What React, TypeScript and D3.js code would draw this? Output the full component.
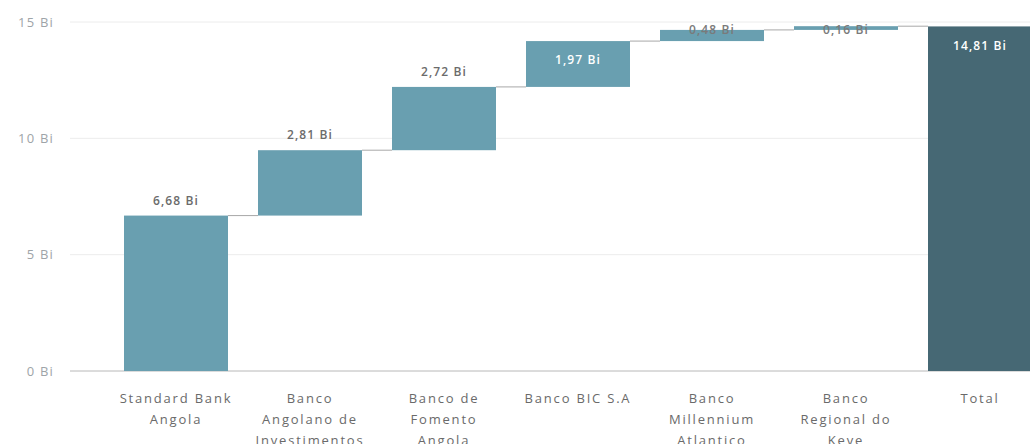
import React from "react";
import * as d3 from "d3";

const categories = [
  "Standard Bank Angola",
  "Banco Angolano de Investimentos",
  "Banco de Fomento Angola",
  "Banco BIC S.A",
  "Banco Millennium Atlantico",
  "Banco Regional do Keve",
  "Total",
];
const increments = [6.68, 2.81, 2.72, 1.97, 0.48, 0.16];
const totalValue = 14.81;
const yTicks = [0, 5, 10, 15];

const W = 1030;
const H = 444;
const FONT = "'Open Sans', 'Noto Sans', sans-serif";

function wrap(text: string, maxChars: number): string[] {
  const words = text.split(" ");
  const lines: string[] = [];
  let cur = "";
  for (const w of words) {
    const t = cur ? cur + " " + w : w;
    if (t.length <= maxChars || !cur) cur = t;
    else {
      lines.push(cur);
      cur = w;
    }
  }
  if (cur) lines.push(cur);
  return lines;
}

const fmt = (v: number) => d3.format(".2f")(v).replace(".", ",") + " Bi";

export default function App() {
  const y = d3.scaleLinear().domain([0, 15]).range([371, 22]);
  const x = d3
    .scaleBand<string>()
    .domain(categories)
    .range([109, 1047])
    .paddingInner(0.224)
    .paddingOuter(0.112);
  const bw = x.bandwidth();

  type Bar = { cat: string; start: number; end: number; value: number; total: boolean };
  const bars: Bar[] = [];
  let acc = 0;
  increments.forEach((v, i) => {
    bars.push({ cat: categories[i], start: acc, end: acc + v, value: v, total: false });
    acc += v;
  });
  bars.push({ cat: categories[6], start: 0, end: totalValue, value: totalValue, total: true });

  const plotTop = y(15);

  return (
    <svg width={W} height={H} style={{ position: "absolute", left: 0, top: 0 }}>
      <rect width={W} height={H} fill="#fff" />
      {yTicks.map((t) => (
        <g key={t}>
          <line
            x1={70}
            x2={W}
            y1={y(t)}
            y2={y(t)}
            stroke={t === 0 ? "#b8b8b8" : "#ececec"}
            strokeWidth={1}
          />
          <text
            x={54}
            y={y(t)}
            dy="0.35em"
            textAnchor="end"
            fontFamily={FONT}
            fontSize={13}
            letterSpacing={1.2}
            fill="#9ea4a8"
          >
            {t} Bi
          </text>
        </g>
      ))}
      {bars.map((b) => {
        const x0 = x(b.cat)!;
        const top = y(b.end);
        const bot = y(b.start);
        return (
          <rect
            key={b.cat}
            x={x0}
            y={top}
            width={bw}
            height={Math.max(1, bot - top)}
            fill={b.total ? "#466874" : "#699fb0"}
          />
        );
      })}
      {bars.slice(0, -1).map((b, i) => {
        const next = bars[i + 1];
        const yy = y(b.end);
        return (
          <line
            key={"c" + i}
            x1={x(b.cat)! + bw}
            x2={x(next.cat)!}
            y1={yy}
            y2={yy}
            stroke="#a8a8a8"
            strokeWidth={1}
          />
        );
      })}
      {bars.map((b) => {
        const top = y(b.end);
        const h = y(b.start) - top;
        const cx = x(b.cat)! + bw / 2;
        let cy: number;
        let color: string;
        if (!b.total && top - 24 >= plotTop) {
          cy = top - 15;
          color = "#6b6b6b";
        } else if (h >= 30) {
          cy = top + 19;
          color = "#ffffff";
        } else {
          cy = plotTop + 8;
          color = "#7a7a7a";
        }
        return (
          <text
            key={"l" + b.cat}
            x={cx}
            y={cy}
            dy="0.35em"
            textAnchor="middle"
            fontFamily={FONT}
            fontSize={12}
            fontWeight={600}
            fill={color}
            letterSpacing={1.1}
          >
            {fmt(b.value)}
          </text>
        );
      })}
      {categories.map((c) => {
        const lines = wrap(c, 13);
        const cx = x(c)! + bw / 2;
        return (
          <text
            key={"x" + c}
            textAnchor="middle"
            fontFamily={FONT}
            fontSize={13}
            letterSpacing={1.8}
            fill="#6a6a6a"
          >
            {lines.map((l, k) => (
              <tspan key={k} x={cx} y={398 + k * 21} dy="0.35em">
                {l}
              </tspan>
            ))}
          </text>
        );
      })}
    </svg>
  );
}
